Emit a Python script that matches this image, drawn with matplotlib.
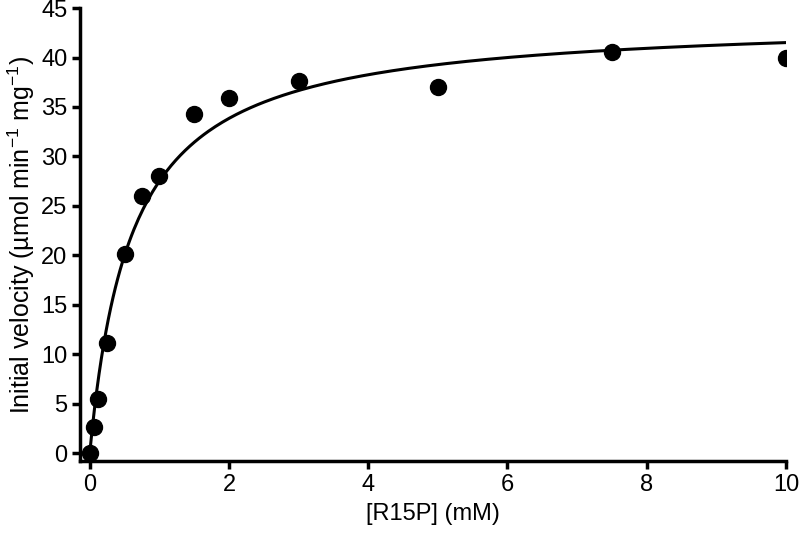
import matplotlib
matplotlib.use("Agg")
import matplotlib.pyplot as plt
import numpy as np

plt.rcParams['font.family'] = ['Liberation Sans', 'DejaVu Sans']
plt.rcParams['mathtext.fontset'] = 'custom'
plt.rcParams['mathtext.rm'] = 'Liberation Sans'
plt.rcParams['mathtext.it'] = 'Liberation Sans'

# substrate concentration (mM) and initial velocity
conc = [0, 0.0625, 0.125, 0.25, 0.5, 0.75, 1, 1.5, 2, 3, 5, 7.5, 10]
velocity = [0, 2.6, 5.5, 11.1, 20.1, 26.0, 28.0, 34.3, 35.9, 37.6, 37.0, 40.6, 40.0]

# Michaelis-Menten fit parameters
vmax = 44.0
km = 0.6


def mm(s, vmax, km):
    return vmax * s / (km + s)


fig = plt.figure(figsize=(8, 5.38), dpi=100)
ax = fig.add_axes([0.1, 0.143, 0.8825, 0.842])

sx = np.linspace(0, 10, 300)
ax.plot(sx, mm(sx, vmax, km), 'k-', lw=2.2)
ax.plot(conc, velocity, 'o', color='black', ms=11.5)

ax.set_xlim(-0.14, 10)
ax.set_ylim(-0.8, 45)
ax.set_xticks([0, 2, 4, 6, 8, 10])
ax.set_yticks(range(0, 46, 5))

for s in ['top', 'right']:
    ax.spines[s].set_visible(False)
for s in ['left', 'bottom']:
    ax.spines[s].set_linewidth(2.5)
ax.tick_params(width=2.5, length=6, labelsize=17, direction='out', pad=3)

ax.set_xlabel('[R15P] (mM)', fontsize=17, labelpad=5)
ax.set_ylabel('Initial velocity (µmol min$^{\\mathrm{-1}}$ mg$^{\\mathrm{-1}}$)',
              fontsize=18, labelpad=3)

fig.savefig('out.png', dpi=100)
